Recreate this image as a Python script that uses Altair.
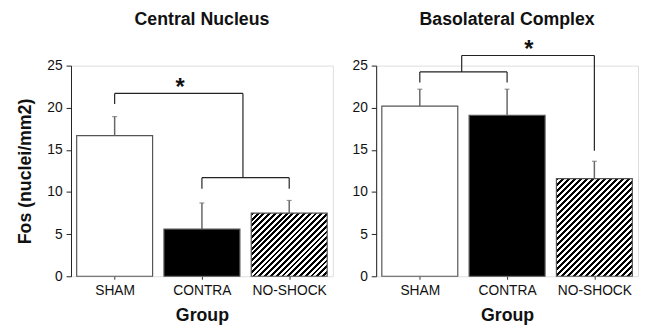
import altair as alt
import pandas as pd

categories = ["SHAM", "CONTRA", "NO-SHOCK"]
group_index = [0, 1, 2]

central_mean = [16.7, 5.6, 7.5]
central_err = [2.25, 3.1, 1.5]
baso_mean = [20.2, 19.1, 11.6]
baso_err = [2.0, 3.1, 2.05]

# significance brackets: line segments (x -> x2, y -> y2) in group-index / Fos units
central_bx = [0.0, 0.0, 1.47, 1.0, 1.0, 2.0]
central_bx2 = [0.0, 1.47, 1.47, 1.0, 2.0, 2.0]
central_by = [20.45, 21.7, 21.7, 10.4, 11.7, 10.4]
central_by2 = [21.7, 21.7, 11.7, 11.7, 11.7, 11.7]
central_star = [0.75, 23.0]

baso_bx = [0.0, 0.0, 1.0, 0.48, 0.48, 2.0]
baso_bx2 = [0.0, 1.0, 1.0, 0.48, 2.0, 2.0]
baso_by = [23.0, 24.25, 23.0, 24.25, 26.2, 26.2]
baso_by2 = [24.25, 24.25, 24.25, 26.2, 26.2, 14.9]
baso_star = [1.25, 27.5]

FONT = "Liberation Sans"
W, H = 266, 214
HALF = 0.435
BAR_PX = 2 * HALF * W / 3.0

label_expr = "[" + ",".join("'%s'" % c for c in categories) + "][datum.value]"


def hatch(value, period=6.0):
    h = value * H / 25.0
    w = BAR_PX
    n = max(1, round((w + h) / period))
    x2 = w * (w + h) / (w * w + h * h)
    y2 = x2 * h / w
    stops = []
    for k in range(n):
        a = round(k / n, 5)
        b = round((k + 0.5) / n, 5)
        stops += [
            alt.GradientStop(offset=a, color="white"),
            alt.GradientStop(offset=a, color="black"),
            alt.GradientStop(offset=b, color="black"),
            alt.GradientStop(offset=b, color="white"),
        ]
    stops.append(alt.GradientStop(offset=1, color="white"))
    return alt.LinearGradient(gradient="linear", stops=stops, x1=0, y1=0, x2=x2, y2=y2)


def panel(title, means, errs, bx, bx2, by, by2, star, ytitle, title_offset):
    df = pd.DataFrame({
        "idx": group_index,
        "group": categories,
        "mean": means,
        "upper": [m + e for m, e in zip(means, errs)],
    })
    br = pd.DataFrame({"x": bx, "x2": bx2, "y": by, "y2": by2})
    st = pd.DataFrame({"x": [star[0]], "y": [star[1]]})

    xs = alt.Scale(domain=[-0.5, 2.5], nice=False, zero=False)
    ys = alt.Scale(domain=[0, 25], nice=False)
    xaxis = alt.Axis(values=group_index, labelExpr=label_expr, domain=False, grid=False,
                     ticks=True, tickSize=3, tickColor="#333", labelFont=FONT, labelFontSize=14,
                     labelColor="#111", labelPadding=5, title="Group", titleFont=FONT,
                     titleFontSize=18, titleFontWeight="bold", titleColor="#111", titlePadding=9)
    yaxis = alt.Axis(values=[0, 5, 10, 15, 20, 25], grid=False, domainColor="#222", tickColor="#222",
                     tickSize=5, labelFont=FONT, labelFontSize=14, labelColor="#111", labelPadding=4,
                     title=ytitle, titleFont=FONT, titleFontSize=18, titleFontWeight="bold",
                     titleColor="#111", titlePadding=13)

    def X(f):
        return alt.X(f, type="quantitative", scale=xs, axis=xaxis)

    def Y(f):
        return alt.Y(f, type="quantitative", scale=ys, axis=yaxis)

    base = alt.Chart(df).transform_calculate(
        lo="datum.idx - %f" % HALF, hi="datum.idx + %f" % HALF, base="0")

    solid = base.transform_filter("datum.idx < 2").mark_bar(stroke="#555", strokeWidth=1.2).encode(
        x=X("lo"), x2="hi:Q", y=Y("mean"), y2="base:Q",
        fill=alt.Fill("group:N", scale=alt.Scale(domain=categories[:2], range=["white", "black"]), legend=None),
    )
    hatched = base.transform_filter("datum.idx == 2").mark_bar(
        stroke="#555", strokeWidth=1.2, fill=hatch(means[2])
    ).encode(x=X("lo"), x2="hi:Q", y=Y("mean"), y2="base:Q")

    err = alt.Chart(df).mark_rule(color="#666", strokeWidth=1.5).encode(x=X("idx"), y=Y("mean"), y2="upper:Q")
    cap = alt.Chart(df).mark_tick(orient="horizontal", size=5, thickness=1.2, color="#666").encode(
        x=X("idx"), y=Y("upper"))
    brackets = alt.Chart(br).mark_rule(color="#222", strokeWidth=1.2).encode(
        x=X("x"), x2="x2:Q", y=Y("y"), y2="y2:Q")
    star_mark = alt.Chart(st).mark_text(text="*", font=FONT, fontSize=24, fontWeight="bold",
                                        baseline="middle", dy=6, color="#111").encode(x=X("x"), y=Y("y"))

    return alt.layer(solid, hatched, err, cap, brackets, star_mark).properties(
        width=W, height=H,
        title=alt.TitleParams(text=title, font=FONT, fontSize=18, fontWeight="bold", color="#111",
                              anchor="middle", frame="group", offset=title_offset),
    )


left = panel("Central Nucleus", central_mean, central_err, central_bx, central_bx2,
             central_by, central_by2, central_star, "Fos (nuclei/mm2)", 30)
right = panel("Basolateral Complex", baso_mean, baso_err, baso_bx, baso_bx2,
              baso_by, baso_by2, baso_star, "", 10)

chart = alt.hconcat(left, right, spacing=17).properties(
    padding={"left": 7, "top": 0, "right": 0, "bottom": 0}
).configure_view(strokeWidth=0).configure(background="white")

chart.save("out.html", embed_options={"renderer": "svg", "actions": False})
